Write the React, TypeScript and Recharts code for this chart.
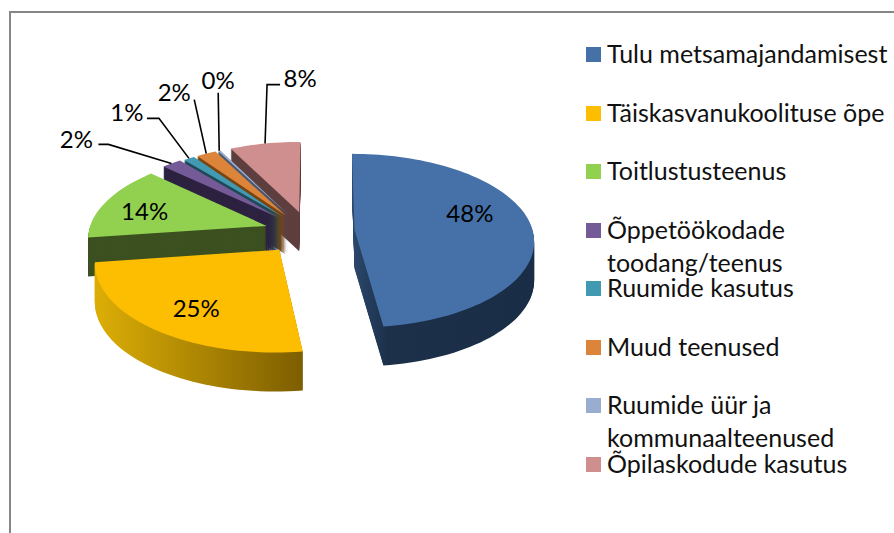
import React from "react";
import { PieChart, Pie, Legend } from "recharts";

const categories = [
  "Tulu metsamajandamisest",
  "Täiskasvanukoolituse õpe",
  "Toitlustusteenus",
  "Õppetöökodade toodang/teenus",
  "Ruumide kasutus",
  "Muud teenused",
  "Ruumide üür ja kommunaalteenused",
  "Õpilaskodude kasutus",
];
const values = [48, 25, 13.9, 2.1, 1.2, 2.1, 0.3, 7.6];
const colors = ["#4571a8", "#fdbd00", "#92d14f", "#745a96", "#4199b2", "#dc843a", "#98adcf", "#cf8f8f"];
const wallColors = ["#1b2e47", "#a07c00", "#3c5020", "#2d2240", "#1f4a57", "#7a4512", "#4a5a72", "#5e3f3f"];
const explode = [0.11, 0.25, 0.24, 0.24, 0.23, 0.23, 0.23, 0.24];
const shiftX = [28, 0, 0, 0, 0, 0, 0, 2];
const shiftY = [-2, 0, 0, 0, 0, 0, 0, 0];
const FONT = "Lato, Carlito, sans-serif";
const CX = 307;
const CY = 232;
const RX = 178;
const FLATTEN = 87 / 178;
const PERSPECTIVE = 0.13;
const DEPTH = 39;

// order of painting: back slices first, drawn counter-clockwise from 12 o'clock
const rows = categories
  .map((name, i) => ({ name, value: values[i], fill: colors[i], wall: wallColors[i], explode: explode[i], index: i }))
  .reverse();

// label layout, relative to the polar position (inside) or the point on the rim (outside)
const insideLabel: Record<number, { r: number; dx: number; dy: number }> = {
  0: { r: 0.62, dx: 6, dy: -13 },
  1: { r: 0.56, dx: -16, dy: 15 },
  2: { r: 0.62, dx: -21, dy: 0 },
};
const outsideLabel: Record<number, { elbow: [number, number]; end: [number, number]; text: [number, number] }> = {
  3: { elbow: [-63, -19], end: [-73, -19], text: [-95, -25] },
  4: { elbow: [-30, -40], end: [-42, -40], text: [-62, -47] },
  5: { elbow: [-12, -54], end: [-12, -54], text: [-32, -62] },
  6: { elbow: [-1, -58], end: [-1, -58], text: [-1, -71] },
  7: { elbow: [2, -59], end: [15, -59], text: [35, -66] },
};

function project(u: number, v: number, cx: number, cy: number, rx: number, i: number) {
  const w = 1 + PERSPECTIVE * v;
  return { x: cx + shiftX[i] + rx * u * w, y: cy + shiftY[i] + rx * FLATTEN * v * w };
}

function sectorPath(props: any, dy: number, e: number, idx: number) {
  const { cx, cy, outerRadius, startAngle, endAngle } = props;
  const mid = ((startAngle + endAngle) / 2) * (Math.PI / 180);
  const ox = e * Math.cos(mid);
  const oy = -e * Math.sin(mid);
  const apex = project(ox, oy, cx, cy, outerRadius, idx);
  let d = `M${apex.x.toFixed(1)},${(apex.y + dy).toFixed(1)}`;
  const n = Math.max(2, Math.ceil(Math.abs(endAngle - startAngle) / 2));
  for (let i = 0; i <= n; i++) {
    const a = ((startAngle + ((endAngle - startAngle) * i) / n) * Math.PI) / 180;
    const p = project(ox + Math.cos(a), oy - Math.sin(a), cx, cy, outerRadius, idx);
    d += `L${p.x.toFixed(1)},${(p.y + dy).toFixed(1)}`;
  }
  return d + "Z";
}

function Slice3D(props: any) {
  const row = props.payload ?? props;
  const gradId = `wall-${row.index}`;
  const layers: React.ReactNode[] = [];
  for (let dy = DEPTH; dy > 0; dy--) {
    layers.push(
      <path
        key={dy}
        d={sectorPath(props, dy, row.explode, row.index)}
        fill={row.index === 0 || row.index === 1 ? `url(#${gradId})` : row.wall}
        stroke="none"
      />
    );
  }
  return (
    <g>
      <defs>
        <linearGradient id="wall-0" x1="0" x2="1" y1="0" y2="0">
          <stop offset="0" stopColor="#2b486d" />
          <stop offset="0.2" stopColor="#1c3049" />
          <stop offset="1" stopColor="#1a2d46" />
        </linearGradient>
        <linearGradient id="wall-1" x1="0" x2="1" y1="0" y2="0">
          <stop offset="0" stopColor="#dcae06" />
          <stop offset="1" stopColor="#7d5e00" />
        </linearGradient>
      </defs>
      {layers}
      <path d={sectorPath(props, 0, row.explode, row.index)} fill={row.fill} stroke="none" />
    </g>
  );
}

function SliceLabel(props: any) {
  const { cx, cy, outerRadius, midAngle, percent, payload } = props;
  const row = payload ?? props;
  const i: number = row.index;
  const a = (midAngle * Math.PI) / 180;
  const c = Math.cos(a);
  const s = -Math.sin(a);
  const text = `${Math.round(percent * 100)}%`;
  const style = { fontFamily: FONT, fontSize: 24, fill: "#000" };
  if (insideLabel[i] !== undefined) {
    const lab = insideLabel[i];
    const r = row.explode + lab.r;
    const p = project(r * c, r * s, cx, cy, outerRadius, i);
    return (
      <text x={p.x + lab.dx} y={p.y + lab.dy} textAnchor="middle" dominantBaseline="central" style={style}>
        {text}
      </text>
    );
  }
  const l = outsideLabel[i];
  const rim = row.explode + 1;
  const p = project(rim * c, rim * s, cx, cy, outerRadius, i);
  return (
    <g>
      <polyline
        points={`${p.x},${p.y} ${p.x + l.elbow[0]},${p.y + l.elbow[1]} ${p.x + l.end[0]},${p.y + l.end[1]}`}
        fill="none"
        stroke="#000"
        strokeWidth={1.6}
      />
      <text x={p.x + l.text[0]} y={p.y + l.text[1]} textAnchor="middle" dominantBaseline="central" style={style}>
        {text}
      </text>
    </g>
  );
}

function LegendRows() {
  return (
    <div style={{ position: "relative", width: 308, height: 480, fontFamily: FONT, fontSize: 25, color: "#111" }}>
      {categories.map((name, i) => (
        <div key={name} style={{ position: "absolute", left: 0, top: 58.5 * i, width: 308, display: "flex", alignItems: "flex-start" }}>
          <span style={{ width: 15, height: 15, marginTop: 10, marginRight: 6, flex: "none", background: colors[i] }} />
          <span style={{ lineHeight: "33px", whiteSpace: "normal", width: 287 }}>{name}</span>
        </div>
      ))}
    </div>
  );
}

export default function App() {
  return (
    <div style={{ position: "absolute", left: 0, top: 0, width: 894, height: 533, overflow: "hidden", background: "#fff" }}>
      <div style={{ position: "absolute", left: 9, top: 11, right: -4, bottom: -4, borderLeft: "2px solid #868686", borderTop: "2px solid #868686" }} />
      <PieChart width={894} height={533} margin={{ top: 0, right: 0, bottom: 0, left: 0 }} style={{ position: "absolute", left: 0, top: 0 }}>
        <Pie
          data={rows}
          dataKey="value"
          nameKey="name"
          cx={CX}
          cy={CY}
          innerRadius={0}
          outerRadius={RX}
          startAngle={90}
          endAngle={450}
          stroke="none"
          isAnimationActive={false}
          shape={Slice3D}
          label={SliceLabel}
          labelLine={false}
        />
        <Legend
          layout="vertical"
          align="center"
          verticalAlign="middle"
          wrapperStyle={{ position: "absolute", left: 586, top: 37, width: 308, margin: 0 }}
          content={LegendRows}
        />
      </PieChart>
    </div>
  );
}
